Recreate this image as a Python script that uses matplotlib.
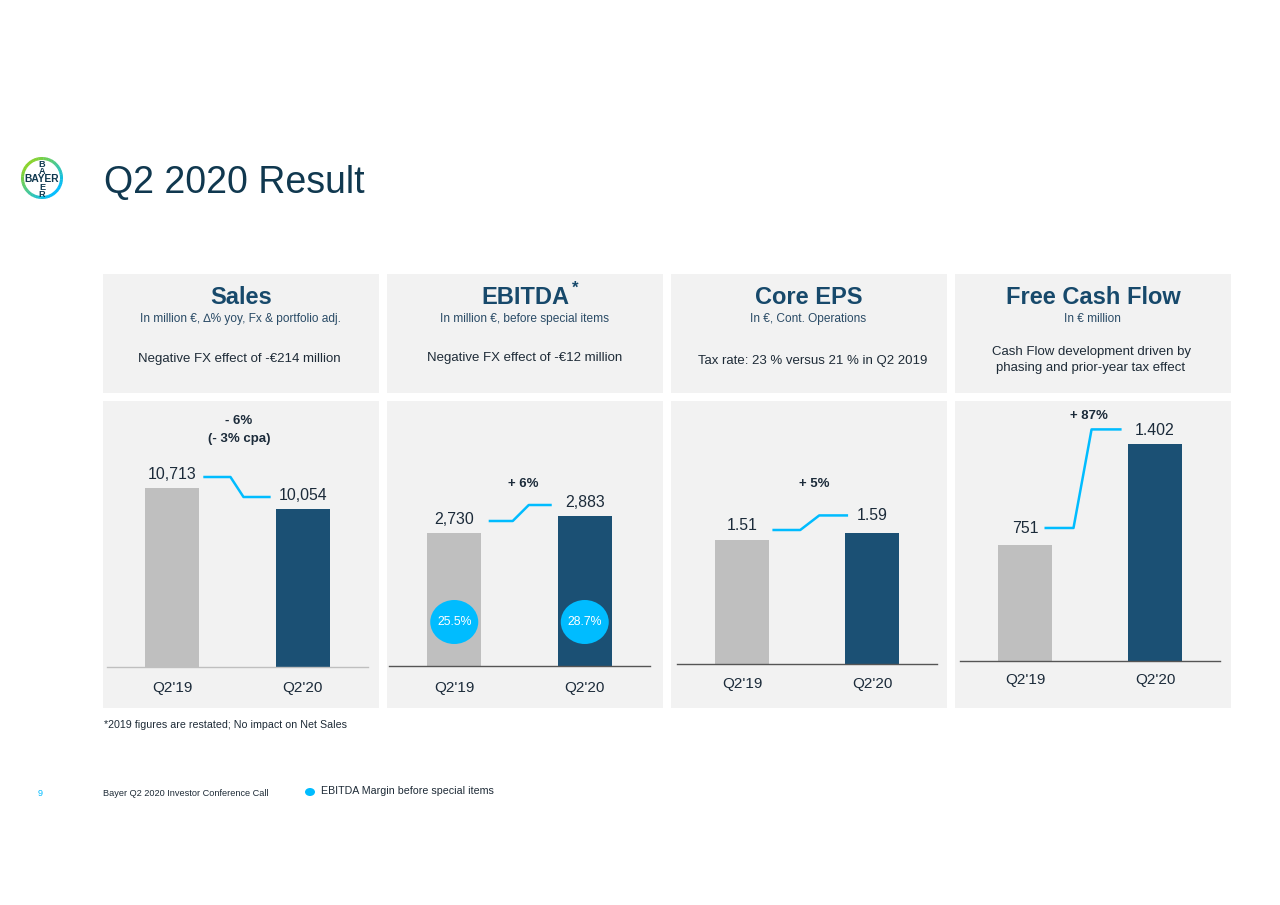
import matplotlib
matplotlib.use("Agg")
import matplotlib.pyplot as plt
from matplotlib.patches import Rectangle, Ellipse, Wedge
import numpy as np

plt.rcParams['font.family'] = ['Liberation Sans', 'DejaVu Sans']

# ---------------- data ----------------
periods = ["Q2'19", "Q2'20"]
panel_titles = ["Sales", "EBITDA", "Core EPS", "Free Cash Flow"]
panel_subtitles = ["In million €, ∆% yoy, Fx & portfolio adj.",
                   "In million €, before special items",
                   "In €, Cont. Operations",
                   "In € million"]
panel_notes = ["Negative FX effect of -€214 million",
               "Negative FX effect of -€12 million",
               "Tax rate: 23 % versus 21 % in Q2 2019",
               "Cash Flow development driven by\nphasing and prior-year tax effect"]
sales = [10713, 10054]
ebitda = [2730, 2883]
core_eps = [1.51, 1.59]
fcf = [751, 1402]
value_labels = [["10,713", "10,054"], ["2,730", "2,883"], ["1.51", "1.59"], ["751", "1.402"]]
change_labels = ["- 6%\n(- 3% cpa)", "+ 6%", "+ 5%", "+ 87%"]
ebitda_margin = ["25.5%", "28.7%"]

# ---------------- style ----------------
W, H = 1280, 905
BOX = '#F2F2F2'
GREY = '#BFBFBF'
DARK = '#1B5074'
CYAN = '#00BCFF'
NAVY = '#10384F'
HEAD = '#17496B'
TXT = '#1E2B37'

fig = plt.figure(figsize=(W / 100, H / 100), dpi=100)
fig.patch.set_facecolor('white')

def fx(x):
    return x / W

def fy(y):
    return 1 - y / H

def inch(x, y):
    return (x / 100, (H - y) / 100)

def ftext(x, y, s, **kw):
    return fig.text(fx(x), fy(y), s, **kw)

# panel boxes
box_x = [103, 387, 671, 955]
box_w = 276
for bx in box_x:
    fig.patches.append(Rectangle((fx(bx), fy(393)), box_w / W, (393 - 274) / H,
                                 transform=fig.transFigure, facecolor=BOX, edgecolor='none', zorder=-1))
    fig.patches.append(Rectangle((fx(bx), fy(708)), box_w / W, (708 - 401) / H,
                                 transform=fig.transFigure, facecolor=BOX, edgecolor='none', zorder=-1))

# title
ftext(104, 183, "Q2 2020 Result", fontsize=27, color=NAVY, va='center', ha='left')

# logo
lx, ly, lr = 42, 178, 21
n = 72
c1 = np.array([0x89, 0xD3, 0x29]) / 255
c2 = np.array([0x00, 0xBC, 0xFF]) / 255
for i in range(n):
    a0 = 360 * i / n
    a1 = 360 * (i + 1) / n + 1.0
    t = (np.cos(np.radians((a0 + a1) / 2 + 45)) + 1) / 2
    col = c2 * t + c1 * (1 - t)
    fig.patches.append(Wedge(inch(lx, ly), lr / 100, a0, a1, width=3.0 / 100,
                             transform=fig.dpi_scale_trans, facecolor=col, edgecolor='none'))
ftext(lx, ly + 0.5, "BAYER", fontsize=7.4, fontweight='bold', color=NAVY, ha='center', va='center')
for ch, dy in zip("BAER", [-14.5, -7.3, 8.0, 15.2]):
    ftext(lx, ly + dy, ch, fontsize=6.6, fontweight='bold', color=NAVY, ha='center',
          va='center_baseline')

# header texts
hdr_cx = [241, 525, 809, 1093]
for i in range(4):
    ftext(hdr_cx[i], 298, panel_titles[i], fontsize=17, fontweight='bold', color=HEAD,
          ha='center', va='center')
    ftext(hdr_cx[i] - 1, 319, panel_subtitles[i], fontsize=8.6, color='#2A4B66',
          ha='center', va='center')
ftext(575, 288, "*", fontsize=12, fontweight='bold', color=HEAD, ha='center', va='center')
note_pos = [(239, 359), (525, 358), (813, 361), (1091, 360)]
for i in range(4):
    ftext(note_pos[i][0], note_pos[i][1], panel_notes[i], fontsize=9.5, color=TXT,
          ha='center', va='center', linespacing=1.45)

# chart panels
values = [sales, ebitda, core_eps, fcf]
ax_px = [(107, 368, 667), (389, 650, 666), (677, 937, 664), (960, 1220, 661)]
ylims = [(5096, 13443), (1533, 3918), (0, 3.2026), (0, 1683)]
base_colors = [GREY, '#555555', '#555555', '#555555']
label_off = [(13, 13), (14, 14), (14, 18), (16, 14)]
conn_off = [(11, 12), (12, 11), (10, 18), (17, 15)]
conn_x = [(0.238, 0.446, 0.546, 0.754), (0.264, 0.448, 0.571, 0.747),
          (0.234, 0.448, 0.594, 0.816), (0.15, 0.373, 0.512, 0.743)]
tick_pad = [10, 10.5, 9.5, 8.7]
top_px = 401
axes = []
for i in range(4):
    x0, x1, base = ax_px[i]
    ax = fig.add_axes([fx(x0), fy(base), (x1 - x0) / W, (base - top_px) / H])
    ax.set_zorder(1)
    ax.set_facecolor('none')
    ax.set_xlim(-0.5, 1.5)
    ax.set_ylim(*ylims[i])
    v = values[i]
    ax.bar([0, 1], v, width=0.415, color=[GREY, DARK], zorder=2)
    for s in ['top', 'right', 'left']:
        ax.spines[s].set_visible(False)
    ax.spines['bottom'].set_color(base_colors[i])
    ax.spines['bottom'].set_linewidth(1.0)
    ax.set_yticks([])
    ax.set_xticks([0, 1], periods)
    ax.tick_params(axis='x', length=0, pad=tick_pad[i], labelsize=11, labelcolor='#1C2B3A')
    ppu = (base - top_px) / (ylims[i][1] - ylims[i][0])
    for j in range(2):
        ax.annotate(value_labels[i][j], (j, v[j]), xytext=(0, label_off[i][j] * 0.72),
                    textcoords='offset points', ha='center', va='center', fontsize=11.4,
                    color='#1C2B3A')
    y_a = v[0] + conn_off[i][0] / ppu
    y_b = v[1] + conn_off[i][1] / ppu
    cx = conn_x[i]
    ax.plot([cx[0], cx[1], cx[2], cx[3]], [y_a, y_a, y_b, y_b], color=CYAN, lw=1.8,
            solid_capstyle='butt', zorder=3)
    axes.append(ax)

# EBITDA margin bubbles
for j in range(2):
    cxp = ax_px[1][0] + (j + 0.5) * (ax_px[1][1] - ax_px[1][0]) / 2
    fig.patches.append(Ellipse(inch(cxp, 622), 48 / 100, 44 / 100, transform=fig.dpi_scale_trans,
                               facecolor=CYAN, edgecolor='none', zorder=5))
    t = ftext(cxp, 622, ebitda_margin[j], fontsize=8.8, color='white', ha='center', va='center')
    t.set_zorder(6)

# change labels
ftext(239, 430, change_labels[0], fontsize=9.5, fontweight='bold', color='#1C2B3A',
      ha='center', va='center', linespacing=1.6)
ftext(523, 484, change_labels[1], fontsize=9.5, fontweight='bold', color='#1C2B3A', ha='center', va='center')
ftext(814, 484, change_labels[2], fontsize=9.5, fontweight='bold', color='#1C2B3A', ha='center', va='center')
ftext(1089, 416, change_labels[3], fontsize=9.5, fontweight='bold', color='#1C2B3A', ha='center', va='center')

# footer
ftext(104, 725, "*2019 figures are restated; No impact on Net Sales", fontsize=7.7, color=TXT,
      ha='left', va='center')
ftext(40, 794, "9", fontsize=6.5, color=CYAN, ha='center', va='center')
ftext(103, 794, "Bayer Q2 2020 Investor Conference Call", fontsize=6.6, color=TXT,
      ha='left', va='center')
fig.patches.append(Ellipse(inch(310, 792), 10 / 100, 8 / 100, transform=fig.dpi_scale_trans,
                           facecolor=CYAN, edgecolor='none'))
ftext(321, 791, "EBITDA Margin before special items", fontsize=7.7, color=TXT,
      ha='left', va='center')

fig.savefig('out.png', dpi=100)
